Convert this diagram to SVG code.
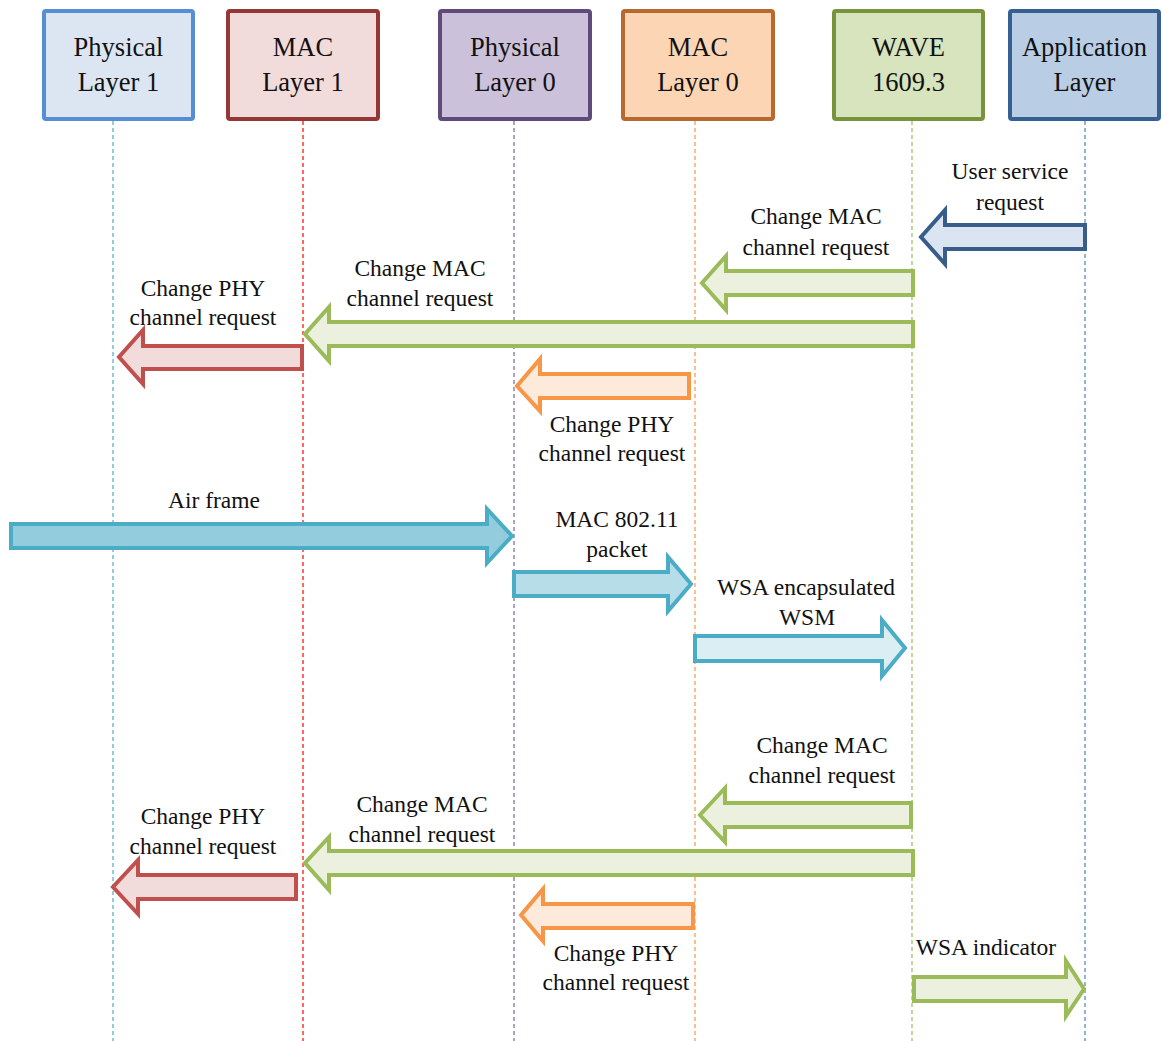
<svg xmlns="http://www.w3.org/2000/svg" width="1163" height="1041" viewBox="0 0 1163 1041">
<style>
  text { font-family: "Liberation Serif", "Times New Roman", serif; fill: #111; text-anchor: middle; }
  .hdr { font-size: 26.5px; }
  .lbl { font-size: 23.5px; }
  .box { stroke-width: 4; }
  .life { stroke-width: 1.2; stroke-dasharray: 4 3; fill: none; }
  .arr { stroke-width: 4; stroke-linejoin: miter; stroke-miterlimit: 10; }
  .green { fill: #ebf1de; stroke: #9bbb59; }
  .red { fill: #f2dcdb; stroke: #c0504d; }
  .orange { fill: #fdeada; stroke: #f79646; }
  .blue { fill: #dbe5f1; stroke: #385d8a; }
  .cyan1 { fill: #93cddd; stroke: #4bacc6; }
  .cyan2 { fill: #b7dee8; stroke: #4bacc6; }
  .cyan3 { fill: #dbeef4; stroke: #4bacc6; }
</style>
<rect width="1163" height="1041" fill="#ffffff"/>
<g id="lifelines">
  <line class="life" x1="113" y1="121" x2="113" y2="1041" stroke="#4bacc6"/>
  <line class="life" x1="303" y1="121" x2="303" y2="1041" stroke="#ff0000"/>
  <line class="life" x1="514" y1="121" x2="514" y2="1041" stroke="#8064a2"/>
  <line class="life" x1="695" y1="121" x2="695" y2="1041" stroke="#f79646"/>
  <line class="life" x1="912" y1="121" x2="912" y2="1041" stroke="#9bbb59"/>
  <line class="life" x1="1085" y1="121" x2="1085" y2="1041" stroke="#4f81bd"/>
</g>
<g id="phy1">
  <rect class="box" x="44" y="11" width="149" height="108" rx="2" fill="#dce6f2" stroke="#558ed5"/>
  <text class="hdr" x="118.5" y="56">Physical</text>
  <text class="hdr" x="118.5" y="91">Layer 1</text>
</g>
<g id="mac1">
  <rect class="box" x="228" y="11" width="150" height="108" rx="2" fill="#f2dcdb" stroke="#953735"/>
  <text class="hdr" x="303" y="56">MAC</text>
  <text class="hdr" x="303" y="91">Layer 1</text>
</g>
<g id="phy0">
  <rect class="box" x="440" y="11" width="150" height="108" rx="2" fill="#ccc1da" stroke="#604a7b"/>
  <text class="hdr" x="515" y="56">Physical</text>
  <text class="hdr" x="515" y="91">Layer 0</text>
</g>
<g id="mac0">
  <rect class="box" x="623" y="11" width="150" height="108" rx="2" fill="#fcd5b5" stroke="#b7692f"/>
  <text class="hdr" x="698" y="56">MAC</text>
  <text class="hdr" x="698" y="91">Layer 0</text>
</g>
<g id="wave">
  <rect class="box" x="834" y="11" width="149" height="108" rx="2" fill="#d7e4bd" stroke="#77933c"/>
  <text class="hdr" x="908.5" y="56">WAVE</text>
  <text class="hdr" x="908.5" y="91">1609.3</text>
</g>
<g id="app">
  <rect class="box" x="1010" y="11" width="149" height="108" rx="2" fill="#b9cde5" stroke="#376092"/>
  <text class="hdr" x="1084.5" y="56">Application</text>
  <text class="hdr" x="1084.5" y="91">Layer</text>
</g>
<g id="connectors">
  <!-- User service request -->
  <polygon class="arr blue" points="1085,225 945,225 945,210 921,237 945,264 945,249 1085,249"/>
  <text class="lbl" x="1010" y="179">User service</text>
  <text class="lbl" x="1010" y="210">request</text>
  <!-- Change MAC 1 -->
  <polygon class="arr green" points="913,271 726,271 726,256 702,283 726,310 726,295 913,295"/>
  <text class="lbl" x="816" y="224">Change MAC</text>
  <text class="lbl" x="816" y="255">channel request</text>
  <!-- long green 1 -->
  <polygon class="arr green" points="913,322 329,322 329,307 305,334 329,361 329,346 913,346"/>
  <text class="lbl" x="420" y="276">Change MAC</text>
  <text class="lbl" x="420" y="306">channel request</text>
  <!-- red 1 -->
  <polygon class="arr red" points="302,346 143,346 143,330 119,357 143,384 143,369 302,369"/>
  <text class="lbl" x="203" y="296">Change PHY</text>
  <text class="lbl" x="203" y="325">channel request</text>
  <!-- orange 1 -->
  <polygon class="arr orange" points="689,374 540,374 540,359 517,386 540,411 540,398 689,398"/>
  <text class="lbl" x="612" y="432">Change PHY</text>
  <text class="lbl" x="612" y="461">channel request</text>
  <!-- Air frame -->
  <polygon class="arr cyan1" points="11,524 487,524 487,509 512,536 487,563 487,548 11,548"/>
  <text class="lbl" x="214" y="508">Air frame</text>
  <!-- MAC 802.11 packet -->
  <polygon class="arr cyan2" points="514,572 668,572 668,557 691,584 668,611 668,596 514,596"/>
  <text class="lbl" x="617" y="527">MAC 802.11</text>
  <text class="lbl" x="617" y="557">packet</text>
  <!-- WSA encapsulated WSM -->
  <polygon class="arr cyan3" points="695,636 882,636 882,620 905,648 882,676 882,661 695,661"/>
  <text class="lbl" x="806" y="595">WSA encapsulated</text>
  <text class="lbl" x="807" y="625">WSM</text>
  <!-- Change MAC 2 -->
  <polygon class="arr green" points="911,803 725,803 725,788 700,815 725,842 725,827 911,827"/>
  <text class="lbl" x="822" y="753">Change MAC</text>
  <text class="lbl" x="822" y="783">channel request</text>
  <!-- long green 2 -->
  <polygon class="arr green" points="913,851 329,851 329,837 305,863 329,890 329,875 913,875"/>
  <text class="lbl" x="422" y="812">Change MAC</text>
  <text class="lbl" x="422" y="842">channel request</text>
  <!-- red 2 -->
  <polygon class="arr red" points="296,875 138,875 138,860 113,887 138,914 138,899 296,899"/>
  <text class="lbl" x="203" y="824">Change PHY</text>
  <text class="lbl" x="203" y="854">channel request</text>
  <!-- orange 2 -->
  <polygon class="arr orange" points="693,904 543,904 543,889 521,915 543,941 543,928 693,928"/>
  <text class="lbl" x="616" y="961">Change PHY</text>
  <text class="lbl" x="616" y="990">channel request</text>
  <!-- WSA indicator -->
  <polygon class="arr green" points="914,977 1066,977 1066,961 1084,989 1066,1016 1066,1001 914,1001"/>
  <text class="lbl" x="986" y="955">WSA indicator</text>
</g>
</svg>
